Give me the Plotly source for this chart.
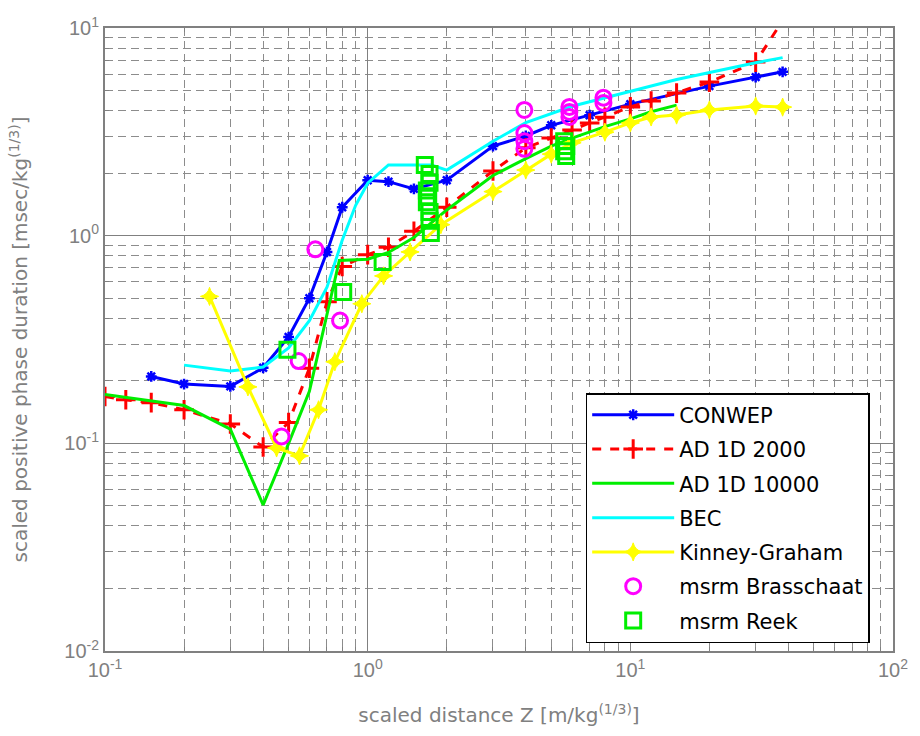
import plotly.graph_objects as go

# Scaled distance Z [m/kg^(1/3)] and scaled positive phase duration [ms/kg^(1/3)]
z_conwep = [0.15, 0.2, 0.3, 0.4, 0.5, 0.6, 0.7, 0.8, 1.0, 1.2, 1.5, 2, 3, 4, 5, 7, 10, 20, 30, 38]
t_conwep = [0.21, 0.193, 0.188, 0.231, 0.325, 0.50, 0.835, 1.37, 1.85, 1.82, 1.68, 1.85, 2.7, 3.02, 3.4, 3.8, 4.3, 5.25, 5.8, 6.15]

z_ad2000 = [0.1, 0.12, 0.15, 0.2, 0.3, 0.4, 0.5, 0.6, 0.7, 0.8, 1.0, 1.2, 1.5, 2, 3, 4, 5, 6, 7, 8, 10, 12, 15, 20, 30, 40]
t_ad2000 = [0.168, 0.162, 0.157, 0.145, 0.124, 0.096, 0.126, 0.23, 0.48, 0.71, 0.81, 0.88, 1.05, 1.37, 2.05, 2.65,
            2.95, 3.23, 3.49, 3.72, 4.17, 4.45, 4.86, 5.49, 6.85, 12.0]

z_ad10000 = [0.1, 0.2, 0.3, 0.4, 0.5, 0.6, 0.78, 1.0, 1.2, 1.5, 2, 3, 4, 5, 6, 8, 10, 12, 15]
t_ad10000 = [0.172, 0.152, 0.117, 0.0505, 0.1, 0.178, 0.76, 0.77, 0.83, 0.98, 1.33, 1.95, 2.35, 2.7, 2.95, 3.35, 3.65, 3.95, 4.25]

z_bec = [0.2, 0.3, 0.4, 0.5, 0.6, 0.7, 0.8, 0.9, 1.0, 1.2, 1.75, 2.0, 3, 4, 6, 10, 15, 30, 38]
t_bec = [0.238, 0.223, 0.233, 0.288, 0.39, 0.565, 0.95, 1.4, 1.79, 2.19, 2.19, 2.07, 2.85, 3.5, 4.2, 4.95, 5.65, 6.8, 7.2]

z_kg = [0.25, 0.35, 0.45, 0.55, 0.65, 0.75, 0.95, 1.15, 1.45, 1.9, 3, 4, 5, 6, 8, 10, 12, 15, 20, 30, 38]
t_kg = [0.51, 0.187, 0.095, 0.087, 0.145, 0.247, 0.47, 0.64, 0.835, 1.13, 1.63, 2.07, 2.47, 2.8, 3.15, 3.49,
        3.73, 3.81, 4.03, 4.21, 4.16]

z_brass = [0.47, 0.546, 0.632, 0.785, 3.95, 3.95, 3.95, 3.95, 5.86, 5.86, 5.86, 7.9, 7.9]
t_brass = [0.108, 0.249, 0.86, 0.39, 4.03, 3.12, 2.85, 2.62, 4.17, 3.94, 3.73, 4.62, 4.35]

z_reek = [0.495, 0.807, 1.14, 1.65, 1.72, 1.72, 1.68, 1.70, 1.68, 1.72, 1.72, 1.74, 5.6, 5.7, 5.6, 5.7]
t_reek = [0.282, 0.535, 0.746, 2.19, 1.98, 1.80, 1.65, 1.55, 1.45, 1.30, 1.18, 1.03, 2.85, 2.7, 2.55, 2.42]

x_ticks = [0.1, 1, 10, 100]
x_ticktext = ["10<sup>-1</sup>", "10<sup>0</sup>", "10<sup>1</sup>", "10<sup>2</sup>"]
y_ticks = [0.01, 0.1, 1, 10]
y_ticktext = ["10<sup>-2</sup>", "10<sup>-1</sup>", "10<sup>0</sup>", "10<sup>1</sup>"]


def minor_positions(decades):
    """2..9 times each decade start, for the minor log grid."""
    return [m * d for d in decades for m in range(2, 10)]


FONT = "Liberation Sans, Arial, Helvetica, sans-serif"
WIDE_FONT = "DejaVu Sans, Liberation Sans, Arial, sans-serif"
GRAY = "#808080"
BLUE, RED, GREEN, CYAN, YELLOW, MAGENTA = "#0000FF", "#FF0000", "#00EE00", "#00FFFF", "#FFFF00", "#FF00FF"

fig = go.Figure()

fig.add_trace(go.Scatter(
    x=z_conwep, y=t_conwep, name="CONWEP", mode="lines+markers", legendgroup="a",
    line=dict(color=BLUE, width=3),
    marker=dict(symbol="asterisk-open", size=9, line=dict(color=BLUE, width=2.5)),
))
fig.add_trace(go.Scatter(
    x=z_ad2000, y=t_ad2000, name="AD 1D 2000", mode="lines+markers", legendgroup="b",
    line=dict(color=RED, width=3, dash="dash"),
    marker=dict(symbol="cross-thin-open", size=14, line=dict(color=RED, width=3)),
))
fig.add_trace(go.Scatter(
    x=z_ad10000, y=t_ad10000, name="AD 1D 10000", mode="lines", legendgroup="c",
    line=dict(color=GREEN, width=3),
))
fig.add_trace(go.Scatter(
    x=z_bec, y=t_bec, name="BEC", mode="lines", legendgroup="d",
    line=dict(color=CYAN, width=3),
))
fig.add_trace(go.Scatter(
    x=z_kg, y=t_kg, name="Kinney-Graham", mode="lines+markers", legendgroup="e",
    line=dict(color=YELLOW, width=3),
    marker=dict(symbol="star-diamond", size=13, color=YELLOW, line=dict(color=YELLOW, width=1)),
))
fig.add_trace(go.Scatter(
    x=z_brass, y=t_brass, name="msrm Brasschaat", mode="markers", legendgroup="f",
    marker=dict(symbol="circle-open", size=15, line=dict(color=MAGENTA, width=3), color=MAGENTA),
))
fig.add_trace(go.Scatter(
    x=z_reek, y=t_reek, name="msrm Reek", mode="markers", legendgroup="g",
    marker=dict(symbol="square-open", size=15, line=dict(color=GREEN, width=3), color=GREEN),
))

axis_common = dict(
    type="log",
    showline=True, linecolor=GRAY, linewidth=2, mirror="allticks",
    ticks="inside", ticklen=6, tickcolor=GRAY, tickwidth=1,
    showgrid=True, gridcolor=GRAY, gridwidth=1,
    tickfont=dict(family=FONT, size=20, color=GRAY),
    zeroline=False,
)
minor_common = dict(tickmode="array", ticks="inside", ticklen=4, tickcolor=GRAY, showgrid=True,
                    gridcolor="#8c8c8c", griddash="8px,5px", gridwidth=1)

fig.update_xaxes(
    **axis_common, range=[-1, 2], tickvals=x_ticks, ticktext=x_ticktext,
    minor=dict(**minor_common, tickvals=minor_positions([0.1, 1, 10])),
    title=dict(text="scaled distance Z [m/kg<sup>(1/3)</sup>]",
               font=dict(family=WIDE_FONT, size=20, color=GRAY), standoff=28),
)
fig.update_yaxes(
    **axis_common, range=[-2, 1], tickvals=y_ticks, ticktext=y_ticktext,
    minor=dict(**minor_common, tickvals=minor_positions([0.01, 0.1, 1])),
    title=dict(text="scaled positive phase duration [msec/kg<sup>(1/3)</sup>]",
               font=dict(family=WIDE_FONT, size=20, color=GRAY), standoff=31),
)

fig.update_layout(
    width=920, height=736,
    margin=dict(l=105, r=21, t=28, b=85),
    paper_bgcolor="white", plot_bgcolor="white",
    font=dict(family=FONT, color="black"),
    legend=dict(
        x=0.61, y=0.414, xanchor="left", yanchor="top",
        bgcolor="white", bordercolor="black", borderwidth=1.5,
        font=dict(family=WIDE_FONT, size=21, color="black"),
        tracegroupgap=4, itemwidth=82,
    ),
)

fig.write_html("out.html")
